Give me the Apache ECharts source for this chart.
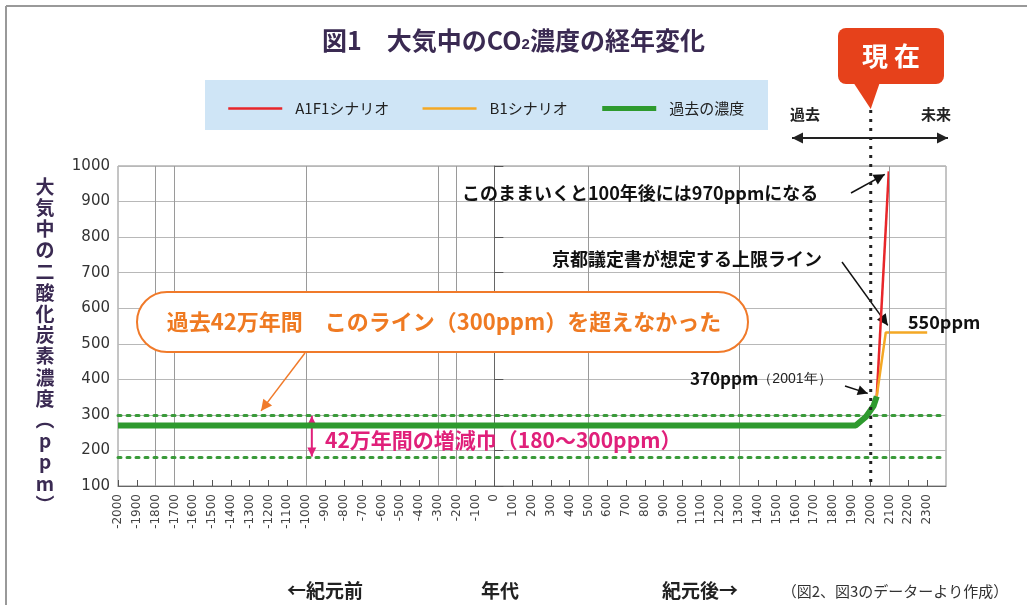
<!DOCTYPE html>
<html><head><meta charset="utf-8">
<script src="https://cdn.jsdelivr.net/npm/echarts@6/dist/echarts.min.js"></script>
<style>html,body{margin:0;padding:0;background:#fff}#c{width:1027px;height:605px}</style>
</head><body><div id="c"></div>
<script>
// ---- data ----
const xTickValues = []; for (let v = -2000; v <= 2300; v += 100) xTickValues.push(v); // tick labels -2000 … 2300
const yTickValues = [100,200,300,400,500,600,700,800,900,1000];
const pastYears   = [-2000, 1920, 1975, 2015, 2032];
const pastPpm     = [270, 270, 295, 325, 352];
const a1f1Years   = [2032, 2096];
const a1f1Ppm     = [352, 985];
const b1Years     = [2032, 2080, 2300];
const b1Ppm       = [352, 532, 532];
const rangeLines  = [300, 180];          // 42万年間の増減巾
const gridYears   = [-1800, -1700, -1000, -300, -200, 500, 1300, 2100]; // vertical grid lines
const nowYear     = 2000;

const JP = '"Noto Sans CJK JP", sans-serif';
const zip = (a,b) => a.map((v,i)=>[v,b[i]]);

const chart = echarts.init(document.getElementById('c'));
const option = {
  animation:false,
  textStyle:{fontFamily:JP},
  grid:{left:118,right:81,top:166,bottom:119,show:true,borderColor:'#8a8a8a',borderWidth:1},
  legend:{
    left:222, top:96, itemWidth:54, itemHeight:14, itemGap:32,
    itemStyle:{opacity:0},
    textStyle:{fontSize:15,color:'#222',fontFamily:JP,padding:[0,0,0,8]},
    data:[{name:'A1F1シナリオ',lineStyle:{width:2.5}},{name:'B1シナリオ',lineStyle:{width:2.5}},{name:'過去の濃度',lineStyle:{width:5}}]
  },
  xAxis:{
    type:'value', min:-2000, max:2400, interval:100,
    axisLine:{lineStyle:{color:'#666'}},
    axisTick:{inside:true,length:6,lineStyle:{color:'#555'}},
    splitLine:{show:false},
    axisLabel:{rotate:90,fontSize:12,color:'#444',fontFamily:'"DejaVu Sans", sans-serif',showMaxLabel:false,
      formatter:v=> xTickValues.indexOf(v)>=0 ? String(v) : ''}
  },
  yAxis:{
    type:'value', min:100, max:1000, interval:100,
    axisLine:{show:true,lineStyle:{color:'#666'}},
    axisTick:{show:true,inside:true,length:9,lineStyle:{color:'#555'}},
    splitLine:{lineStyle:{color:'#b8b8b8'}},
    axisLabel:{fontSize:15,color:'#333',fontFamily:'"DejaVu Sans", sans-serif',margin:8,
      formatter:v=> yTickValues.indexOf(v)>=0 ? String(v) : ''}
  },
  series:[
    {name:'grid', type:'line', data:[], silent:true,
      markLine:{symbol:'none',silent:true,label:{show:false},
        lineStyle:{color:'#9a9a9a',type:'solid',width:1},
        data:gridYears.map(v=>({xAxis:v}))}},
    {name:'A1F1シナリオ', type:'line', symbol:'none', data:zip(a1f1Years,a1f1Ppm),
      lineStyle:{color:'#e8262a',width:2.5}, itemStyle:{color:'#e8262a'}, z:3},
    {name:'B1シナリオ', type:'line', symbol:'none', data:zip(b1Years,b1Ppm),
      lineStyle:{color:'#f4a825',width:2.5}, itemStyle:{color:'#f4a825'}, z:4},
    {name:'過去の濃度', type:'line', symbol:'none', data:zip(pastYears,pastPpm),
      lineStyle:{color:'#2e9a2e',width:6}, itemStyle:{color:'#2e9a2e'}, z:5,
      markLine:{symbol:'none',silent:true,label:{show:false},
        lineStyle:{color:'#3a9a3a',type:[3,6],width:3,cap:'round'},
        data:rangeLines.map(v=>({yAxis:v}))}}
  ]
};
chart.setOption(option);

// ---- annotations ----
const P = (x,y)=>chart.convertToPixel({gridIndex:0},[x,y]);
function arrow(x1,y1,x2,y2,color,w,head,both){
  const a=Math.atan2(y2-y1,x2-x1), h=head||10, s=h*0.5;
  const tri=(x,y,ang)=>({type:'polygon',shape:{points:[[x,y],[x-h*Math.cos(ang)+s*Math.sin(ang),y-h*Math.sin(ang)-s*Math.cos(ang)],[x-h*Math.cos(ang)-s*Math.sin(ang),y-h*Math.sin(ang)+s*Math.cos(ang)]]},style:{fill:color}});
  const els=[{type:'line',shape:{x1,y1,x2,y2},style:{stroke:color,lineWidth:w}},tri(x2,y2,a)];
  if(both) els.push(tri(x1,y1,a+Math.PI));
  return {type:'group',children:els};
}
const nowX = P(nowYear,100)[0];
const bot100 = P(nowYear,100)[1];
const y300 = P(0,300)[1], y180 = P(0,180)[1];
const magX = P(-970,300)[0];
const orangeTgt = P(-1240,300);
const redTop = P(a1f1Years[1],a1f1Ppm[1]);
const b1Corner = P(b1Years[1],b1Ppm[1]);
const pastEnd = P(pastYears[pastYears.length-1],pastPpm[pastPpm.length-1]);

const yName='大気中の二酸化炭素濃度'.split('').join('\n')+'\n︵\np\np\nm\n︶';

chart.setOption({graphic:[
  // frame
  {type:'line',shape:{x1:6,y1:6,x2:1027,y2:6},style:{stroke:'#999',lineWidth:2}},
  {type:'line',shape:{x1:6,y1:6,x2:6,y2:605},style:{stroke:'#999',lineWidth:2}},
  // title
  {type:'text',left:'center',top:28,style:{text:'図1　大気中のCO{s|2}濃度の経年変化',font:'bold 25px '+JP,fill:'#3a2a52',
    rich:{s:{fontSize:15,fontWeight:'bold',fill:'#3a2a52',padding:[9,0,0,0]}}},z:10},
  // legend background
  {type:'rect',shape:{x:205,y:80,width:563,height:50},style:{fill:'#cfe5f6'},z:-1},
  // now callout
  {type:'rect',shape:{x:838,y:28,width:106,height:56,r:8},style:{fill:'#e6411b'},z:10},
  {type:'polygon',shape:{points:[[853,82],[880,82],[nowX,109]]},style:{fill:'#e6411b'},z:10},
  {type:'text',x:891,y:56,style:{text:'現 在',font:'bold 26px '+JP,fill:'#fff',align:'center',verticalAlign:'middle'},z:11},
  {type:'text',x:805,y:114,style:{text:'過去',font:'bold 15px '+JP,fill:'#222',align:'center',verticalAlign:'middle'}},
  {type:'text',x:936,y:114,style:{text:'未来',font:'bold 15px '+JP,fill:'#222',align:'center',verticalAlign:'middle'}},
  arrow(792,138,948,138,'#222',2,11,true),
  {type:'line',shape:{x1:nowX,y1:110,x2:nowX,y2:bot100},style:{stroke:'#222',lineWidth:3,lineDash:[3,6]},z:20},
  // y axis name
  {type:'text',x:45,y:176,style:{text:yName,font:'bold 19px '+JP,fill:'#3a2a52',align:'center',verticalAlign:'top',lineHeight:21.2}},
  // top annotation
  {type:'text',x:462,y:193,style:{text:'このままいくと100年後には970ppmになる',font:'bold 18px '+JP,fill:'#111',verticalAlign:'middle'},z:10},
  arrow(851,193,redTop[0]-4,redTop[1]+3,'#111',1.5,11),
  {type:'text',x:552,y:259,style:{text:'京都議定書が想定する上限ライン',font:'bold 18px '+JP,fill:'#111',verticalAlign:'middle'},z:10},
  arrow(842,262,b1Corner[0]+2,b1Corner[1]-7,'#111',1.5,11),
  {type:'text',x:908,y:322,style:{text:'550ppm',font:'bold 18px '+JP,fill:'#111',verticalAlign:'middle'},z:10},
  {type:'text',x:690,y:379,style:{text:'370ppm{s|（2001年）}',font:'bold 17px '+JP,fill:'#111',verticalAlign:'middle',
    rich:{s:{fontSize:14,fontWeight:'normal',fill:'#222'}}},z:10},
  arrow(845,386,pastEnd[0]-9,pastEnd[1]-3,'#111',1.5,10),
  // orange callout
  {type:'rect',shape:{x:137,y:292,width:611,height:60,r:30},style:{fill:'#fff',stroke:'#f07a2a',lineWidth:2},z:10},
  {type:'text',x:444,y:322,style:{text:'過去42万年間　このライン（300ppm）を超えなかった',font:'bold 22px '+JP,fill:'#ef7a22',align:'center',verticalAlign:'middle'},z:11},
  arrow(305,353,orangeTgt[0],orangeTgt[1]-4,'#f07a2a',1.5,11),
  // magenta range
  arrow(magX,y300+1,magX,y180-1,'#e0207a',2,9,true),
  {type:'text',x:325,y:440,style:{text:'42万年間の増減巾（180〜300ppm）',font:'bold 21px '+JP,fill:'#e0207a',verticalAlign:'middle'},z:10},
  // bottom texts
  {type:'text',x:325,y:591,style:{text:'←紀元前',font:'bold 19px '+JP,fill:'#222',align:'center',verticalAlign:'middle'}},
  {type:'text',x:500,y:591,style:{text:'年代',font:'bold 19px '+JP,fill:'#222',align:'center',verticalAlign:'middle'}},
  {type:'text',x:700,y:591,style:{text:'紀元後→',font:'bold 19px '+JP,fill:'#222',align:'center',verticalAlign:'middle'}},
  {type:'text',x:895,y:591,style:{text:'（図2、図3のデーターより作成）',font:'15px '+JP,fill:'#333',align:'center',verticalAlign:'middle'}}
]});
</script></body></html>
